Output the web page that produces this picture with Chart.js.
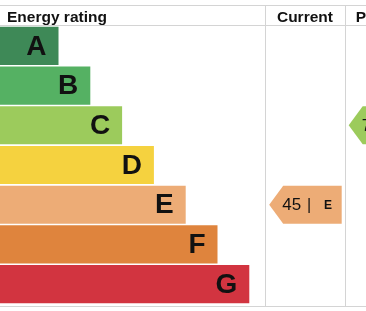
<!DOCTYPE html>
<html><head><meta charset="utf-8">
<script src="https://cdn.jsdelivr.net/npm/chart.js@4/dist/chart.umd.min.js"></script>
<style>html,body{margin:0;padding:0;background:#fff;overflow:hidden}canvas{display:block}</style>
</head><body>
<canvas id="c" width="366" height="311"></canvas>
<script>
// Data
const bands = ['A','B','C','D','E','F','G'];
const bandLengths = [1,2,3,4,5,6,7];
const bandColors = ['#3e8957','#55b163','#9ccb5c','#f5d23f','#edac76','#df843d','#d23440'];
const currentScore = 45, currentBand = 'E';
const potentialScore = 75, potentialBand = 'C';
const headers = ['Energy rating','Current','Potential'];

const FONT = '"Liberation Sans", Arial, sans-serif';
const LINE = '#d4d4d4';

const epcPlugin = {
  id:'epc',
  afterDatasetsDraw(chart){
    const ctx = chart.ctx, x = chart.scales.x, y = chart.scales.y;
    const meta = chart.getDatasetMeta(0);
    // band letters
    ctx.save();
    ctx.fillStyle = '#111';
    ctx.font = 'bold 28px ' + FONT;
    ctx.textAlign = 'right'; ctx.textBaseline = 'middle';
    meta.data.forEach((bar,i)=>{ ctx.fillText(bands[i], bar.x - 12, bar.y + 1); });
    ctx.restore();

    const W = chart.width;
    const colCurL = x.getPixelForValue(7.5), colCurR = x.getPixelForValue(10);
    const colPotR = colCurR + (colCurR - colCurL);
    // lines
    ctx.save();
    ctx.strokeStyle = LINE; ctx.lineWidth = 1;
    ctx.beginPath();
    ctx.moveTo(0,5.5); ctx.lineTo(W,5.5);
    ctx.moveTo(0,25.5); ctx.lineTo(W,25.5);
    ctx.moveTo(0,306.5); ctx.lineTo(W,306.5);
    ctx.moveTo(Math.round(colCurL)+0.5,5); ctx.lineTo(Math.round(colCurL)+0.5,306);
    ctx.moveTo(Math.round(colCurR)+0.5,5); ctx.lineTo(Math.round(colCurR)+0.5,306);
    ctx.stroke();
    // headers
    ctx.fillStyle = '#111';
    ctx.font = 'bold 15.5px ' + FONT;
    ctx.textBaseline = 'alphabetic';
    ctx.textAlign = 'left';
    ctx.fillText(headers[0], 7, 22);
    ctx.textAlign = 'center';
    ctx.fillText(headers[1], (colCurL+colCurR)/2, 22);
    ctx.fillText(headers[2], (colCurR+colPotR)/2 + 4, 22);
    ctx.restore();

    // arrows
    const h = meta.data[0].height;
    function arrow(left, right, band, score){
      const i = bands.indexOf(band);
      const cy = y.getPixelForValue(i);
      const top = cy - h/2, bot = cy + h/2;
      const sh = left + 14;
      ctx.save();
      ctx.fillStyle = bandColors[i];
      ctx.beginPath();
      ctx.moveTo(left, cy); ctx.lineTo(sh, top); ctx.lineTo(right, top);
      ctx.lineTo(right, bot); ctx.lineTo(sh, bot); ctx.closePath(); ctx.fill();
      ctx.fillStyle = '#111'; ctx.textBaseline = 'middle'; ctx.textAlign = 'left';
      ctx.font = '17px ' + FONT;
      let tx = sh - 1;
      ctx.fillText(String(score), tx, cy + 1);
      tx += ctx.measureText(String(score)).width + 6;
      ctx.font = '16px ' + FONT;
      ctx.fillText('|', tx, cy + 1);
      tx += 17;
      ctx.font = 'bold 12px ' + FONT;
      ctx.fillText(band, tx, cy + 1);
      ctx.restore();
    }
    arrow(colCurL + 4, colCurR - 3, currentBand, currentScore);
    arrow(colCurR + 4, colPotR - 3, potentialBand, potentialScore);
  }
};

new Chart(document.getElementById('c'), {
  type:'bar',
  data:{ labels: bands, datasets:[{ data: bandLengths, base: -0.84, backgroundColor: bandColors,
    borderWidth:0, barPercentage:0.96, categoryPercentage:1 }]},
  options:{
    indexAxis:'y', responsive:false, animation:false,
    layout:{ padding:{ top:26, bottom:7, left:0, right:0 } },
    plugins:{ legend:{display:false}, tooltip:{enabled:false} },
    scales:{
      x:{ type:'linear', min:-0.84, max:10.67, display:false },
      y:{ type:'category', display:false }
    }
  },
  plugins:[epcPlugin]
});
</script>
</body></html>
